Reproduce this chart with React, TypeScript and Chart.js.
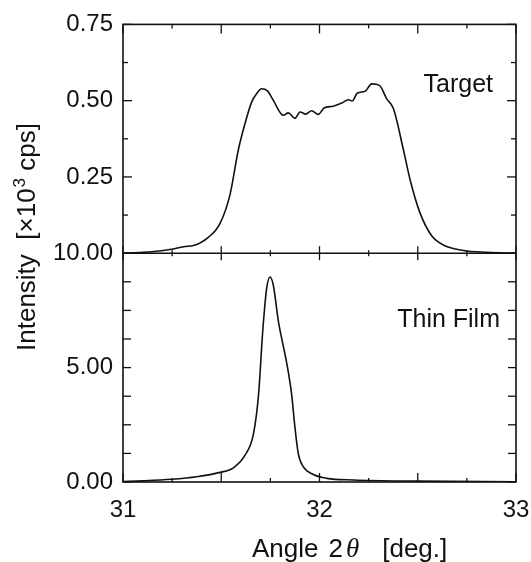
import React, { useEffect, useRef } from 'react';
import { Chart, registerables } from 'chart.js';

Chart.register(...registerables);

// ---- data ----
const targetAngle = [
  31.0, 31.1, 31.205, 31.256, 31.316, 31.358, 31.434, 31.494, 31.545, 31.587, 31.621, 31.655, 31.68,
  31.706, 31.735, 31.765, 31.816, 31.841, 31.875, 31.901, 31.93, 31.96, 31.994, 32.023, 32.07, 32.113,
  32.147, 32.167, 32.193, 32.232, 32.266, 32.305, 32.342, 32.376, 32.427, 32.461, 32.511, 32.571, 32.63,
  32.732, 32.851, 33.0,
];
const targetIntensity = [
  0.0, 0.003, 0.009, 0.014, 0.022, 0.025, 0.052, 0.098, 0.193, 0.339, 0.425, 0.496, 0.523,
  0.539, 0.532, 0.501, 0.452, 0.46, 0.442, 0.463, 0.456, 0.467, 0.455, 0.476, 0.482, 0.492,
  0.503, 0.499, 0.525, 0.531, 0.555, 0.55, 0.506, 0.474, 0.339, 0.241, 0.133, 0.057, 0.027,
  0.009, 0.003, 0.0,
];
const filmAngle = [
  31.0, 31.1, 31.248, 31.375, 31.494, 31.562, 31.621, 31.664, 31.69, 31.711, 31.731, 31.748, 31.765,
  31.791, 31.816, 31.833, 31.858, 31.875, 31.892, 31.918, 31.969, 32.037, 32.172, 32.5, 33.0,
];
const filmIntensity = [
  0.02, 0.05, 0.12, 0.23, 0.42, 0.62, 1.17, 2.1, 3.84, 6.58, 8.46, 8.96, 8.6,
  7.01, 5.93, 5.21, 3.84, 2.39, 1.24, 0.66, 0.33, 0.16, 0.09, 0.04, 0.01,
];
const xTickLabels = ['31', '32', '33'];
const targetTickLabels = ['0.25', '0.50', '0.75'];
const filmTickLabels = ['0.00', '5.00', '10.00'];
const panelLabels = ['Target', 'Thin Film'];

const FONT = '"Liberation Sans", Arial, Helvetica, sans-serif';
const INK = '#111111';

const framePlugin = {
  id: 'frame',
  afterDraw(chart: any) {
    const ctx = chart.ctx as CanvasRenderingContext2D;
    const { left, right, top, bottom } = chart.chartArea;
    const xs = chart.scales.x;
    const yT = chart.scales.yT;
    const yB = chart.scales.yB;
    const mid = yT.bottom;
    ctx.save();
    ctx.strokeStyle = INK;
    ctx.lineWidth = 1.6;
    ctx.strokeRect(left, top, right - left, bottom - top);
    const seg = (x1: number, y1: number, x2: number, y2: number) => {
      ctx.beginPath();
      ctx.moveTo(x1, y1);
      ctx.lineTo(x2, y2);
      ctx.stroke();
    };
    seg(left, mid, right, mid);
    ctx.lineWidth = 1.3;
    xs.ticks.forEach((t: any) => {
      const px = xs.getPixelForValue(t.value);
      const major = Math.abs(t.value * 2 - Math.round(t.value * 2)) < 1e-6;
      const len = major ? 9 : 4;
      seg(px, top, px, top + len);
      seg(px, mid - (major ? 7 : 3), px, mid + (major ? 7 : 3));
      seg(px, bottom - len, px, bottom);
    });
    yT.ticks.forEach((t: any) => {
      const py = yT.getPixelForValue(t.value);
      const major = Math.abs(t.value * 4 - Math.round(t.value * 4)) < 1e-6;
      const len = major ? 9 : 5;
      seg(left, py, left + len, py);
      seg(right - len, py, right, py);
    });
    yB.ticks.forEach((t: any) => {
      const py = yB.getPixelForValue(t.value);
      seg(left, py, left + 8, py);
      seg(right - 8, py, right, py);
    });

    // panel labels
    ctx.fillStyle = INK;
    ctx.font = `25px ${FONT}`;
    ctx.textAlign = 'right';
    ctx.textBaseline = 'alphabetic';
    ctx.fillText(panelLabels[0], right - 23, top + 68);
    ctx.fillText(panelLabels[1], right - 16, mid + 74);

    // x title
    ctx.textAlign = 'left';
    let cx = 252;
    const by = 557;
    ctx.font = `26px ${FONT}`;
    ctx.fillText('Angle', cx, by);
    cx += ctx.measureText('Angle').width + 10;
    ctx.fillText('2', cx, by);
    cx += ctx.measureText('2').width + 3;
    ctx.font = `italic 27px "Liberation Serif", "DejaVu Serif", serif`;
    ctx.fillText('θ', cx, by);
    cx += ctx.measureText('θ').width + 23;
    ctx.font = `26px ${FONT}`;
    ctx.fillText('[deg.]', cx, by);

    // y title (rotated)
    ctx.save();
    ctx.translate(35, 237);
    ctx.rotate(-Math.PI / 2);
    const p1 = 'Intensity  [×10';
    const p2 = '3';
    const p3 = ' cps]';
    ctx.font = `26px ${FONT}`;
    const w1 = ctx.measureText(p1).width;
    const w3 = ctx.measureText(p3).width;
    ctx.font = `17px ${FONT}`;
    const w2 = ctx.measureText(p2).width + 1;
    const total = w1 + w2 + w3;
    let sx = -total / 2;
    ctx.font = `26px ${FONT}`;
    ctx.fillText(p1, sx, 0);
    sx += w1;
    ctx.font = `17px ${FONT}`;
    ctx.fillText(p2, sx + 1, -10);
    sx += w2;
    ctx.font = `26px ${FONT}`;
    ctx.fillText(p3, sx, 0);
    ctx.restore();

    ctx.restore();
  },
};

export default function App() {
  const ref = useRef<HTMLCanvasElement | null>(null);
  useEffect(() => {
    if (!ref.current) return;
    const chart = new Chart(ref.current, {
      type: 'line',
      data: {
        datasets: [
          {
            label: panelLabels[0],
            data: targetAngle.map((x, i) => ({ x, y: targetIntensity[i] })),
            yAxisID: 'yT',
            borderColor: INK,
            borderWidth: 1.6,
            pointRadius: 0,
            fill: false,
            cubicInterpolationMode: 'monotone',
          },
          {
            label: panelLabels[1],
            data: filmAngle.map((x, i) => ({ x, y: filmIntensity[i] })),
            yAxisID: 'yB',
            borderColor: INK,
            borderWidth: 1.6,
            pointRadius: 0,
            fill: false,
            cubicInterpolationMode: 'monotone',
          },
        ],
      },
      options: {
        responsive: false,
        animation: false,
        events: [],
        layout: { padding: { left: 0, top: 20, right: 15, bottom: 0 } },
        plugins: { legend: { display: false }, tooltip: { enabled: false } },
        scales: {
          x: {
            type: 'linear',
            min: 31,
            max: 33,
            grid: { display: false, drawTicks: false },
            border: { display: false },
            afterFit: (s: any) => {
              s.height = 80;
              s.paddingLeft = 0;
              s.paddingRight = 0;
            },
            ticks: {
              stepSize: 0.25,
              autoSkip: false,
              maxRotation: 0,
              padding: 14,
              color: INK,
              font: { family: FONT, size: 24 },
              callback: (v: any) => (xTickLabels.includes(String(Number(v))) ? String(Number(v)) : ''),
            },
          },
          yB: {
            type: 'linear',
            position: 'left',
            stack: 'panels',
            stackWeight: 1,
            min: 0,
            max: 10,
            grid: { display: false, drawTicks: false },
            border: { display: false },
            afterFit: (s: any) => {
              s.width = 123;
            },
            ticks: {
              stepSize: 1.25,
              autoSkip: false,
              padding: 10,
              color: INK,
              font: { family: FONT, size: 24 },
              callback: (v: any) => {
                const s = Number(v).toFixed(2);
                return filmTickLabels.includes(s) ? s : '';
              },
            },
          },
          yT: {
            type: 'linear',
            position: 'left',
            stack: 'panels',
            stackWeight: 1,
            min: 0,
            max: 0.75,
            grid: { display: false, drawTicks: false },
            border: { display: false },
            afterFit: (s: any) => {
              s.width = 123;
            },
            ticks: {
              stepSize: 0.125,
              autoSkip: false,
              padding: 10,
              color: INK,
              font: { family: FONT, size: 24 },
              callback: (v: any) => {
                const s = Number(v).toFixed(2);
                return targetTickLabels.includes(s) ? s : '';
              },
            },
          },
        },
      },
      plugins: [framePlugin],
    } as any);
    return () => chart.destroy();
  }, []);

  return (
    <div style={{ position: 'fixed', left: 0, top: 0, width: 531, height: 562, background: '#fff' }}>
      <canvas ref={ref} width={531} height={562} style={{ display: 'block' }} />
    </div>
  );
}
